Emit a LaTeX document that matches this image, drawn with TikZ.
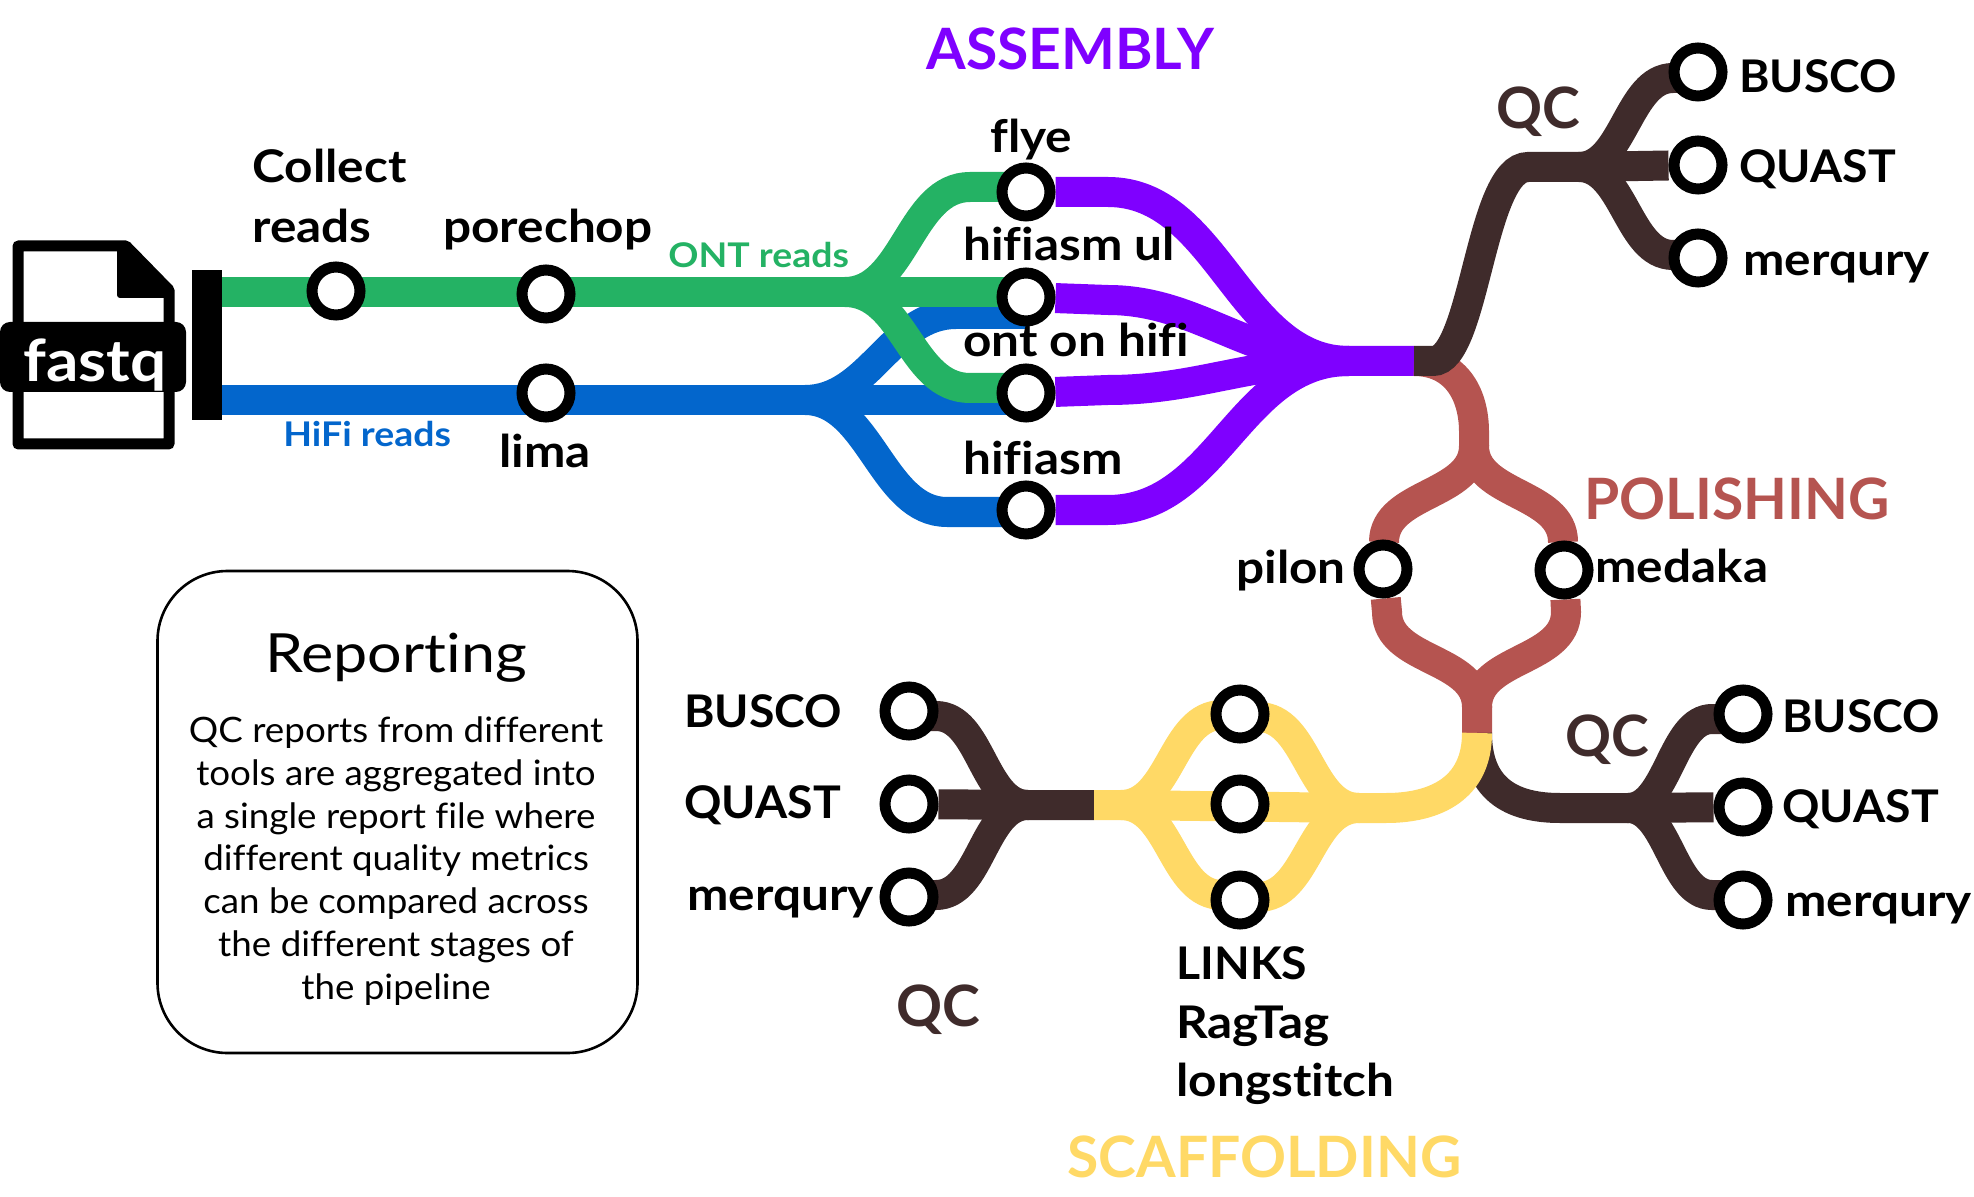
\documentclass[tikz,border=0pt]{standalone}
\usepackage{fontspec}
\setmainfont{Lato}[Ligatures=NoCommon]
\newfontfamily\labfont{Lato}[FakeStretch=1.1, Ligatures=NoCommon]
\newfontfamily\capfont{Lato}[FakeStretch=1.03, Ligatures=NoCommon]
\newfontfamily\titlefont{Lato}[FakeStretch=1.13, Ligatures=NoCommon]
\newfontfamily\bodyfont{Lato}[FakeStretch=1.05, Ligatures=NoCommon]
\usetikzlibrary{backgrounds}
\definecolor{ontgreen}{RGB}{36,178,100}
\definecolor{hifiblue}{RGB}{3,102,204}
\definecolor{asmpurple}{RGB}{127,0,255}
\definecolor{polred}{RGB}{181,84,80}
\definecolor{qcbrown}{RGB}{63,43,43}
\definecolor{scafyellow}{RGB}{255,217,102}
\tikzset{
  track/.style={line width=15pt, line cap=butt},
  station/.style={circle, draw=black, fill=white, line width=5.5pt, minimum size=24pt, inner sep=0pt},
  lab/.style={anchor=base west, inner sep=0pt, font=\labfont\fontsize{22.5}{24}\selectfont\bfseries},
  caplab/.style={anchor=base west, inner sep=0pt, font=\capfont\fontsize{22.5}{24}\selectfont\bfseries},
  stage/.style={anchor=base west, inner sep=0pt, font=\fontsize{28.5}{30}\selectfont\bfseries},
  small/.style={anchor=base west, inner sep=0pt, font=\labfont\fontsize{17}{19}\selectfont\bfseries}
}
\begin{document}
\begin{tikzpicture}[x=0.5pt, y=-0.5pt]
  \useasboundingbox (0, 0) rectangle (1974, 1197);

  \foreach \name/\x/\y in {collect/336/291, porechop/546/294, lima/546/393,
      flye/1026/192, hifiul/1026/297, ontonhifi/1026/393, hifiasm/1026/510,
      buscoA/1698/72, quastA/1698/165, merquryA/1698/258,
      pilon/1383/569, medaka/1564/570,
      buscoB/1743/714, quastB/1743/807, merquryB/1743/900,
      scafA/1240/714, scafB/1240/804, scafC/1240/900,
      buscoC/909/711, quastC/909/804, merquryC/909/897}
    \node[station] (\name) at (\x, \y) {};

  \node[fill=black, minimum width=15pt, minimum height=75pt, inner sep=0pt] (bar) at (207, 345) {};

  \coordinate (gstart) at (222, 292);
  \coordinate (gsplit) at (845, 292);
  \coordinate (gtop) at (970, 187);
  \coordinate (gbot) at (970, 388);
  \coordinate (gflye) at (1026, 187);
  \coordinate (gul) at (1026, 292);
  \coordinate (gont) at (1026, 388);
  \coordinate (bstart) at (222, 400);
  \coordinate (bsplit) at (805, 400);
  \coordinate (btop) at (956, 314);
  \coordinate (bbot) at (947, 512);
  \coordinate (bul) at (1026, 314);
  \coordinate (bont) at (1026, 400);
  \coordinate (bhifi) at (1026, 512);
  \coordinate (pjoin) at (1349, 361);
  \coordinate (pend) at (1414, 361);
  \coordinate (rfork) at (1474, 432);
  \coordinate (rforkb) at (1474, 446);
  \coordinate (rjoin) at (1477, 707);
  \coordinate (rend) at (1477, 733);
  \coordinate (ybend) at (1386, 808);
  \coordinate (yright) at (1359, 808);
  \coordinate (yleft) at (1121, 805);
  \coordinate (yend) at (1094, 805);
  \coordinate (qAstart) at (1433, 361);
  \coordinate (qAtop) at (1528, 167);
  \coordinate (qAsplit) at (1579, 167);
  \coordinate (qBflat) at (1560, 808);
  \coordinate (qBsplit) at (1628, 808);
  \coordinate (qCsplit) at (1028, 805);

  \begin{pgfonlayer}{background}
    \draw[track, hifiblue] (bstart) -- (bsplit) -- (bont);
    \draw[track, hifiblue] (bsplit) .. controls +(65, 0) and +(-65, 0) .. (btop) -- (bul);
    \draw[track, hifiblue] (bsplit) .. controls +(65, 0) and +(-65, 0) .. (bbot) -- (bhifi);

    \draw[track, ontgreen] (gstart) -- (gsplit) -- (gul);
    \draw[track, ontgreen] (gsplit) .. controls +(60, 0) and +(-60, 0) .. (gtop) -- (gflye);
    \draw[track, ontgreen] (gsplit) .. controls +(60, 0) and +(-60, 0) .. (gbot) -- (gont);

    \draw[track, asmpurple] (flye) -- (1108, 192) .. controls +(110, 0) and +(-110, 0) .. (pjoin) -- (pend);
    \draw[track, asmpurple] (hifiul) -- (1108, 300) .. controls +(90, 0) and +(-100, 0) .. (pjoin);
    \draw[track, asmpurple] (ontonhifi) -- (1108, 390) .. controls +(90, 0) and +(-100, 0) .. (pjoin);
    \draw[track, asmpurple] (hifiasm) -- (1108, 510) .. controls +(110, 0) and +(-110, 0) .. (pjoin);

    \draw[track, polred] (pend) .. controls +(40, 0) and +(0, -40) .. (rfork) -- (rforkb);
    \draw[track, polred] (rforkb) .. controls +(0, 50) and +(0, -50) .. (1384, 542) -- (pilon);
    \draw[track, polred] (rforkb) .. controls +(0, 50) and +(0, -50) .. (1563, 542) -- (medaka);
    \draw[track, polred] (pilon) -- (1387, 612) .. controls +(0, 50) and +(0, -50) .. (rjoin) -- (rend);
    \draw[track, polred] (medaka) -- (1566, 612) .. controls +(0, 50) and +(0, -50) .. (rjoin);

    \draw[track, qcbrown] (pend) -- (qAstart) .. controls +(42, 0) and +(-48, 0) .. (qAtop) -- (qAsplit) -- (quastA);
    \draw[track, qcbrown] (qAsplit) .. controls +(45, 0) and +(-45, 0) .. (1673, 78) -- (1698, 78);
    \draw[track, qcbrown] (qAsplit) .. controls +(45, 0) and +(-45, 0) .. (1673, 255) -- (1698, 255);

    \draw[track, qcbrown] (rend) .. controls +(0, 55) and +(-50, 0) .. (qBflat) -- (qBsplit) -- (quastB);
    \draw[track, qcbrown] (qBsplit) .. controls +(40, 0) and +(-40, 0) .. (1712, 719) -- (1743, 719);
    \draw[track, qcbrown] (qBsplit) .. controls +(40, 0) and +(-40, 0) .. (1712, 895) -- (1743, 895);

    \draw[track, qcbrown] (yend) -- (qCsplit) -- (quastC);
    \draw[track, qcbrown] (qCsplit) .. controls +(-45, 0) and +(45, 0) .. (936, 716) -- (909, 716);
    \draw[track, qcbrown] (qCsplit) .. controls +(-45, 0) and +(45, 0) .. (936, 895) -- (909, 895);

    \draw[track, scafyellow] (rend) .. controls +(0, 55) and +(50, 0) .. (ybend) -- (yright) -- (yleft) -- (yend);
    \draw[track, scafyellow] (yleft) .. controls +(50, 0) and +(-50, 0) .. (1222, 715) -- (1258, 717) .. controls +(50, 0) and +(-50, 0) .. (yright);
    \draw[track, scafyellow] (yleft) .. controls +(50, 0) and +(-50, 0) .. (1222, 895) -- (1258, 897) .. controls +(50, 0) and +(-50, 0) .. (yright);
  \end{pgfonlayer}

  \draw[line width=5.5pt, line join=round, fill=white] (18, 246) -- (126, 246) -- (169, 290) -- (169, 444) -- (18, 444) -- cycle;
  \fill[black, rounded corners=1.5pt] (117, 246) -- (126, 246) -- (169, 290) -- (169, 298) -- (117, 298) -- cycle;
  \fill[black, rounded corners=5pt] (0, 322) rectangle (186, 392);
  \node[anchor=base west, inner sep=0pt, text=white, font=\labfont\fontsize{29}{31}\selectfont\bfseries] (fastq) at (23, 382) {fastq};

  \node[lab] (lcollect) at (252, 183) {Collect};
  \node[lab] (lreads) at (252, 243) {reads};
  \node[lab] (lporechop) at (443, 243) {porechop};
  \node[lab] (llima) at (499, 468) {lima};
  \node[small, text=hifiblue] (lhifi) at (283, 447) {HiFi reads};
  \node[small, text=ontgreen] (lont) at (668, 268) {ONT reads};
  \node[lab] (lflye) at (990, 153) {flye};
  \node[lab] (lhifiul) at (963, 261) {hifiasm ul};
  \node[lab] (lontonhifi) at (963, 357) {ont on hifi};
  \node[lab] (lhifiasm) at (963, 474) {hifiasm};

  \node[stage, text=asmpurple] (lassembly) at (926, 70) {ASSEMBLY};
  \node[stage, text=polred] (lpolishing) at (1584, 519) {POLISHING};
  \node[stage, text=scafyellow] (lscaffolding) at (1067, 1177) {SCAFFOLDING};
  \node[stage, text=qcbrown] (lqcA) at (1496, 129) {QC};
  \node[stage, text=qcbrown] (lqcB) at (1565, 756) {QC};
  \node[stage, text=qcbrown] (lqcC) at (896, 1026) {QC};

  \node[caplab] (lbuscoA) at (1739, 93) {BUSCO};
  \node[caplab] (lquastA) at (1739, 183) {QUAST};
  \node[lab] (lmerquryA) at (1743, 276) {merqury};
  \node[caplab] (lbuscoB) at (1782, 732) {BUSCO};
  \node[caplab] (lquastB) at (1782, 822) {QUAST};
  \node[lab] (lmerquryB) at (1785, 916) {merqury};
  \node[caplab] (lbuscoC) at (684, 727) {BUSCO};
  \node[caplab] (lquastC) at (684, 818) {QUAST};
  \node[lab] (lmerquryC) at (687, 910) {merqury};
  \node[lab] (lpilon) at (1236, 583) {pilon};
  \node[lab] (lmedaka) at (1595, 582) {medaka};
  \node[caplab] (llinks) at (1176, 979) {LINKS};
  \node[lab] (lragtag) at (1176, 1038) {RagTag};
  \node[lab] (llongstitch) at (1176, 1096) {longstitch};

  \node[draw=black, line width=1.3pt, rounded corners=35pt, minimum width=240pt, minimum height=241pt] (report) at (397.5, 812) {};
  \node[anchor=base, inner sep=0pt, font=\titlefont\fontsize{27}{29}\selectfont] (reporttitle) at (396, 672) {Reporting};
  \node[align=center, inner sep=0pt, font=\bodyfont\fontsize{17.5}{21.4}\selectfont] (reporttext) at (396, 861) {QC reports from different\\tools are aggregated into\\a single report file where\\different quality metrics\\can be compared across\\the different stages of\\the pipeline};
\end{tikzpicture}
\end{document}
